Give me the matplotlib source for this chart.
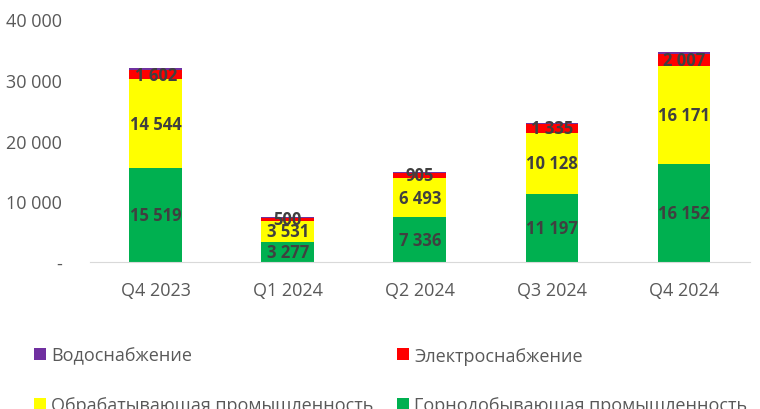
import numpy as np
import matplotlib.pyplot as plt

plt.rcParams['font.family'] = ['Open Sans', 'DejaVu Sans']

quarters = ['Q4 2023', 'Q1 2024', 'Q2 2024', 'Q3 2024', 'Q4 2024']
mining = [15519, 3277, 7336, 11197, 16152]
manufacturing = [14544, 3531, 6493, 10128, 16171]
electricity = [1602, 500, 905, 1335, 2007]
water = [230, 120, 150, 230, 250]

c_mining = '#00B050'
c_manuf = '#FFFF00'
c_elec = '#FF0000'
c_water = '#7030A0'
txt = '#404040'


def fmt(v):
    return f'{v:,}'.replace(',', ' ')


fig = plt.figure(figsize=(7.6, 4.1), dpi=100)
ax = fig.add_axes([0.118, 0.3585, 0.869, 0.5925])

x = np.arange(len(quarters))
w = 0.4
mining = np.array(mining)
manufacturing = np.array(manufacturing)
electricity = np.array(electricity)
water = np.array(water)

b1 = ax.bar(x, mining, w, color=c_mining)
b2 = ax.bar(x, manufacturing, w, bottom=mining, color=c_manuf)
b3 = ax.bar(x, electricity, w, bottom=mining + manufacturing, color=c_elec)
b4 = ax.bar(x, water, w, bottom=mining + manufacturing + electricity, color=c_water)

for bars, vals in [(b1, mining), (b2, manufacturing), (b3, electricity)]:
    for b, v in zip(bars, vals):
        ax.text(b.get_x() + b.get_width() / 2, b.get_y() + b.get_height() / 2, fmt(v),
                ha='center', va='center', fontsize=12, fontweight='bold', color=txt)

ax.set_ylim(0, 40000)
ax.set_xlim(-0.5, len(quarters) - 0.5)
ax.set_yticks([0, 10000, 20000, 30000, 40000])
ax.set_yticklabels(['-', '10 000', '20 000', '30 000', '40 000'])
ax.set_xticks(x)
ax.set_xticklabels(quarters)
ax.tick_params(axis='both', length=0, labelsize=13, labelcolor='#595959')
ax.tick_params(axis='y', pad=20)
ax.tick_params(axis='x', pad=14)
for s in ['top', 'right', 'left']:
    ax.spines[s].set_visible(False)
ax.spines['bottom'].set_color('#D9D9D9')

fig.legend([b4, b2, b3, b1],
           ['Водоснабжение', 'Обрабатывающая промышленность',
            'Электроснабжение', 'Горнодобывающая промышленность'],
           ncol=2, loc='upper left', bbox_to_anchor=(0.035, 0.17), frameon=False,
           fontsize=13, labelcolor='#595959', handlelength=0.65, handleheight=0.65,
           handletextpad=0.3, labelspacing=1.75, columnspacing=1.3, borderaxespad=0)

fig.savefig('out.png', dpi=100)
